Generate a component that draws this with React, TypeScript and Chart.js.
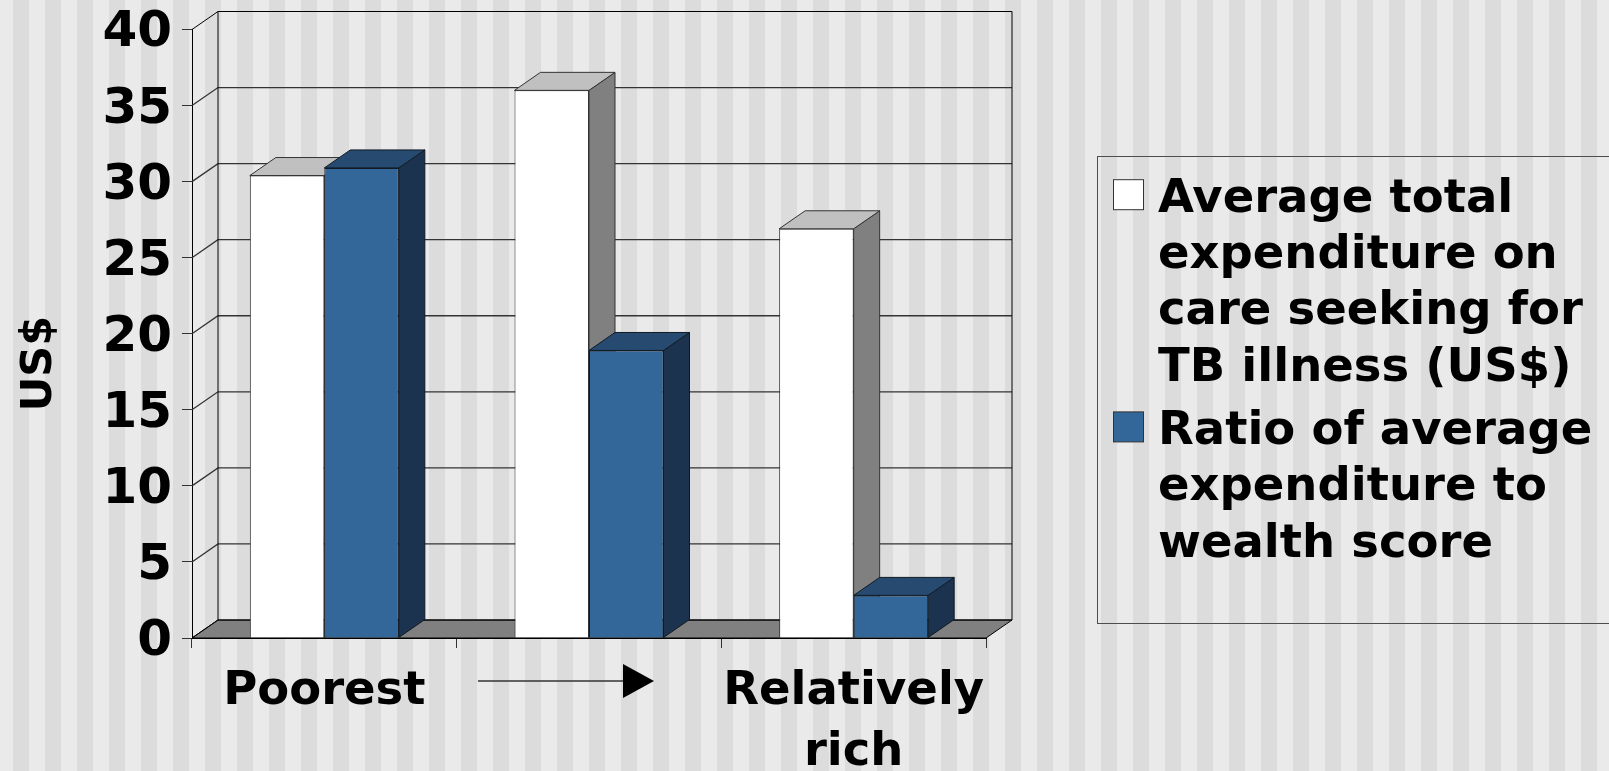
import React, { useEffect, useRef } from 'react';
import { Chart, registerables } from 'chart.js';

Chart.register(...registerables);

// ---- data ----
const categories: (string | string[])[] = ['Poorest', '', ['Relatively', 'rich']];
const expenditureLines = ['Average total', 'expenditure on', 'care seeking for', 'TB illness (US$)'];
const ratioLines = ['Ratio of average', 'expenditure to', 'wealth score'];
const expenditure = [30.4, 36.0, 26.9];
const ratio = [30.9, 18.9, 2.8];
const yMin = 0;
const yMax = 40;
const yStep = 5;
const yTitle = 'US$    ';

// ---- styling ----
const FONT = '"DejaVu Sans", Verdana, sans-serif';
const DX = 26;
const DY = 18;
const WHITE = { front: '#FFFFFF', top: '#C0C0C0', side: '#808080', edge: '#333333' };
const BLUE = { front: '#336699', top: '#264A70', side: '#1B334E', edge: '#111A24' };
const faces = [WHITE, BLUE];

const threeD = {
  id: 'threeD',
  beforeDraw(chart: any) {
    const { ctx, width, height } = chart;
    ctx.save();
    ctx.fillStyle = '#EAEAEA';
    ctx.fillRect(0, 0, width, height);
    ctx.fillStyle = '#DCDCDC';
    for (let x = 13; x < width; x += 32) ctx.fillRect(x, 0, 16, height);
    ctx.restore();
  },
  beforeDatasetsDraw(chart: any) {
    const { ctx, chartArea: a, scales } = chart;
    const y = scales.y;
    const y0 = y.getPixelForValue(yMin);
    const yT = y.getPixelForValue(yMax);
    ctx.save();
    ctx.lineWidth = 1;
    // floor
    ctx.beginPath();
    ctx.moveTo(a.left, y0);
    ctx.lineTo(a.right, y0);
    ctx.lineTo(a.right + DX, y0 - DY);
    ctx.lineTo(a.left + DX, y0 - DY);
    ctx.closePath();
    ctx.fillStyle = '#808080';
    ctx.fill();
    ctx.strokeStyle = '#000';
    ctx.stroke();
    // gridlines on side wall and back wall
    y.ticks.forEach((t: any) => {
      const py = y.getPixelForValue(t.value);
      ctx.strokeStyle = t.value === yMax || t.value === yMin ? '#000' : '#333333';
      ctx.lineWidth = t.value === yMax || t.value === yMin ? 1 : 1.3;
      ctx.beginPath();
      ctx.moveTo(a.left, py);
      ctx.lineTo(a.left + DX, py - DY);
      ctx.lineTo(a.right + DX, py - DY);
      ctx.stroke();
    });
    ctx.lineWidth = 1;
    ctx.strokeStyle = '#000';
    ctx.beginPath();
    ctx.moveTo(a.left + DX, yT - DY);
    ctx.lineTo(a.left + DX, y0 - DY);
    ctx.moveTo(a.right + DX, yT - DY);
    ctx.lineTo(a.right + DX, y0 - DY);
    ctx.stroke();
    // bar tops and sides, left to right
    const n = chart.data.labels.length;
    for (let i = 0; i < n; i++) {
      chart.data.datasets.forEach((_: any, di: number) => {
        const meta = chart.getDatasetMeta(di);
        const bar = meta.data[i];
        if (!bar) return;
        const p = bar.getProps(['x', 'y', 'base', 'width'], true);
        const l = p.x - p.width / 2;
        const r = p.x + p.width / 2;
        const top = Math.min(p.y, p.base);
        const bot = Math.max(p.y, p.base);
        const f = faces[di];
        ctx.strokeStyle = f.edge;
        // side
        ctx.beginPath();
        ctx.moveTo(r, top);
        ctx.lineTo(r + DX, top - DY);
        ctx.lineTo(r + DX, bot - DY);
        ctx.lineTo(r, bot);
        ctx.closePath();
        ctx.fillStyle = f.side;
        ctx.fill();
        ctx.stroke();
        // top
        ctx.beginPath();
        ctx.moveTo(l, top);
        ctx.lineTo(r, top);
        ctx.lineTo(r + DX, top - DY);
        ctx.lineTo(l + DX, top - DY);
        ctx.closePath();
        ctx.fillStyle = f.top;
        ctx.fill();
        ctx.stroke();
      });
    }
    ctx.restore();
  },
  afterDraw(chart: any) {
    const { ctx, scales } = chart;
    const x = scales.x;
    ctx.save();
    // arrow between the wealth groups
    const mid = x.getPixelForValue(1);
    const ay = x.top + 43;
    ctx.strokeStyle = '#333';
    ctx.lineWidth = 1.5;
    ctx.beginPath();
    ctx.moveTo(mid - 111, ay);
    ctx.lineTo(mid + 35, ay);
    ctx.stroke();
    ctx.fillStyle = '#000';
    ctx.beginPath();
    ctx.moveTo(mid + 34, ay - 17);
    ctx.lineTo(mid + 65, ay);
    ctx.lineTo(mid + 34, ay + 17);
    ctx.closePath();
    ctx.fill();

    // legend
    const lx = 1097.5;
    const ly = 156.5;
    ctx.strokeStyle = '#4D4D4D';
    ctx.lineWidth = 1;
    ctx.strokeRect(lx, ly, 640, 467);
    ctx.font = `bold 46.5px ${FONT}`;
    ctx.textBaseline = 'alphabetic';
    ctx.textAlign = 'left';
    const items = [
      { lines: expenditureLines, color: chart.data.datasets[0].backgroundColor },
      { lines: ratioLines, color: chart.data.datasets[1].backgroundColor },
    ];
    let base = 211.7;
    const step = 56.3;
    items.forEach((it) => {
      ctx.fillStyle = it.color;
      ctx.fillRect(lx + 16, base - 32, 30, 30);
      ctx.strokeStyle = '#333';
      ctx.strokeRect(lx + 16, base - 32, 30, 30);
      ctx.fillStyle = '#000';
      it.lines.forEach((ln, k) => {
        ctx.fillText(ln, 1158, base + k * step);
      });
      base += it.lines.length * step + 7;
    });
    ctx.restore();
  },
};

export default function App() {
  const ref = useRef<HTMLCanvasElement | null>(null);
  useEffect(() => {
    if (!ref.current) return;
    const chart = new Chart(ref.current, {
      type: 'bar',
      data: {
        labels: categories as any,
        datasets: [
          {
            label: expenditureLines.join(' '),
            data: expenditure,
            backgroundColor: WHITE.front,
            borderColor: WHITE.edge,
            borderWidth: 1,
            categoryPercentage: 0.563,
            barPercentage: 1,
          },
          {
            label: ratioLines.join(' '),
            data: ratio,
            backgroundColor: BLUE.front,
            borderColor: BLUE.edge,
            borderWidth: 1,
            categoryPercentage: 0.563,
            barPercentage: 1,
          },
        ],
      },
      options: {
        responsive: false,
        animation: false,
        devicePixelRatio: 1,
        layout: { padding: { left: 0, top: 29.5, right: 623, bottom: 0 } },
        plugins: { legend: { display: false }, tooltip: { enabled: false } },
        scales: {
          x: {
            afterFit: (s: any) => {
              s.height = 133;
            },
            grid: { drawOnChartArea: false, drawTicks: true, tickLength: 10, color: '#333', offset: true },
            border: { display: true, color: '#000', width: 1 },
            ticks: {
              color: '#000',
              font: { family: FONT, size: 46.5, weight: 'bold', lineHeight: 1.3 },
              padding: 14,
              maxRotation: 0,
              minRotation: 0,
              autoSkip: false,
            },
          },
          y: {
            min: yMin,
            max: yMax,
            afterFit: (s: any) => {
              s.width = 192;
            },
            grid: { drawOnChartArea: false, drawTicks: true, tickLength: 10, color: '#333' },
            border: { display: true, color: '#000', width: 1 },
            ticks: {
              stepSize: yStep,
              color: '#000',
              font: { family: FONT, size: 50, weight: 'bold', lineHeight: 0.7 },
              padding: 10,
              labelOffset: 4,
            },
            title: {
              display: true,
              text: yTitle,
              color: '#000',
              font: { family: FONT, size: 43, weight: 'bold' },
              padding: { top: 14, bottom: 0 },
            },
          },
        },
      },
      plugins: [threeD],
    });
    return () => chart.destroy();
  }, []);
  return (
    <div style={{ position: 'fixed', left: 0, top: 0, width: 1609, height: 771, overflow: 'hidden' }}>
      <canvas ref={ref} width={1609} height={771} style={{ display: 'block', width: 1609, height: 771 }} />
    </div>
  );
}
